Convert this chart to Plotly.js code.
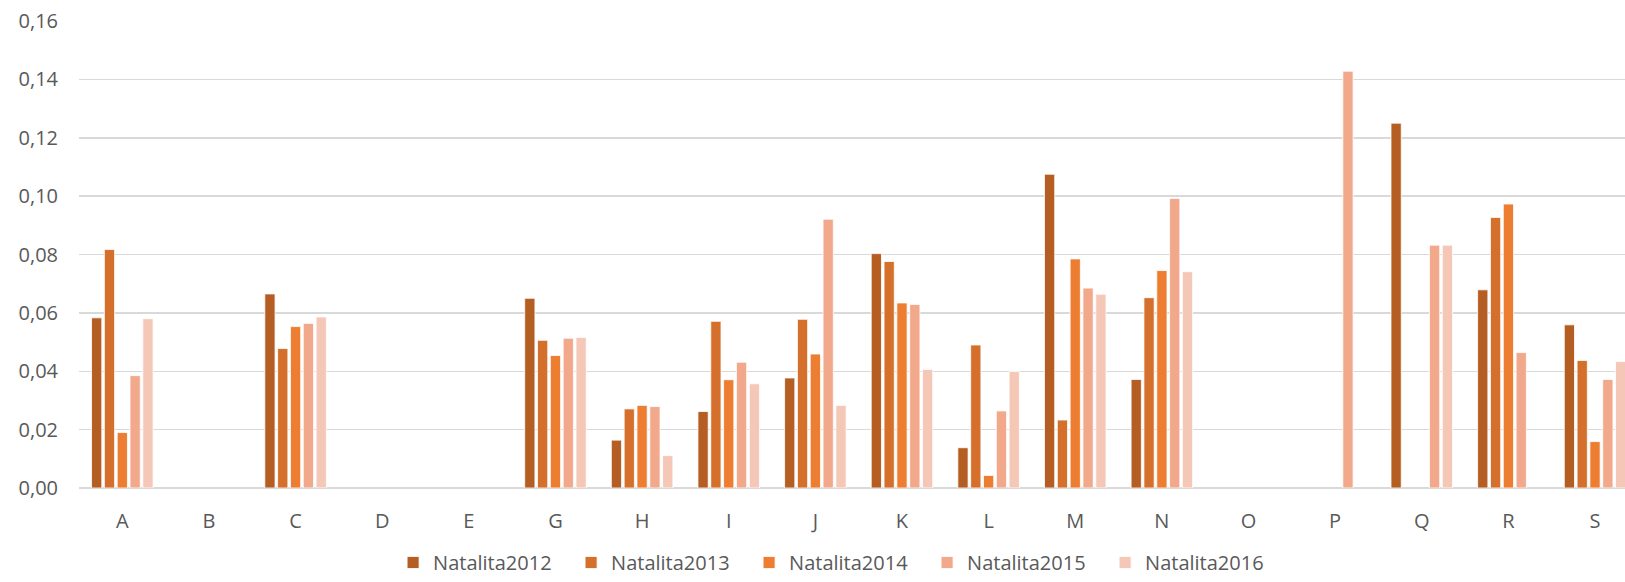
<!DOCTYPE html>
<html>
<head>
<meta charset="utf-8">
<script src="https://cdn.plot.ly/plotly-3.0.1.min.js"></script>
<style>html,body{margin:0;padding:0;background:#fff;}#chart{width:1625px;height:582px;}</style>
</head>
<body>
<div id="chart"></div>
<script>
const categories = ["A","B","C","D","E","G","H","I","J","K","L","M","N","O","P","Q","R","S"];
const natalita2012 = [0.0583, null, 0.0665, null, null, 0.0650, 0.0164, 0.0262, 0.0377, 0.0803, 0.0138, 0.1075, 0.0372, null, null, 0.1250, 0.0679, 0.0559];
const natalita2013 = [0.0817, null, 0.0478, null, null, 0.0506, 0.0271, 0.0571, 0.0578, 0.0776, 0.0490, 0.0233, 0.0652, null, null, null, 0.0927, 0.0437];
const natalita2014 = [0.0190, null, 0.0553, null, null, 0.0454, 0.0283, 0.0371, 0.0459, 0.0634, 0.0043, 0.0785, 0.0745, null, null, null, 0.0973, 0.0159];
const natalita2015 = [0.0385, null, 0.0564, null, null, 0.0513, 0.0279, 0.0431, 0.0921, 0.0629, 0.0264, 0.0685, 0.0992, null, 0.1428, 0.0832, 0.0464, 0.0372];
const natalita2016 = [0.0580, null, 0.0586, null, null, 0.0516, 0.0111, 0.0357, 0.0283, 0.0406, 0.0399, 0.0664, 0.0741, null, null, 0.0832, null, 0.0433];
const seriesNames = ["Natalita2012","Natalita2013","Natalita2014","Natalita2015","Natalita2016"];
const seriesColors = ["#B45E24","#D46F2C","#ED7D31","#F1A88B","#F5C7B7"];
const seriesValues = [natalita2012, natalita2013, natalita2014, natalita2015, natalita2016];

const font = "'Open Sans', 'Liberation Sans', sans-serif";
const traces = seriesValues.map((vals, i) => ({
  type: 'bar',
  name: seriesNames[i],
  x: categories,
  y: vals,
  marker: {color: seriesColors[i], line: {color: '#ffffff', width: 0.8}},
  hoverinfo: 'x+y+name'
}));

const layout = {
  width: 1625,
  height: 582,
  margin: {l: 79, r: 0, t: 21, b: 94, autoexpand: false},
  paper_bgcolor: '#ffffff',
  plot_bgcolor: '#ffffff',
  separators: ', ',
  barmode: 'group',
  bargap: 0.26,
  bargroupgap: 0.2,
  font: {family: font, size: 20, color: '#595959'},
  xaxis: {
    type: 'category',
    range: [-0.5, 17.346],
    showgrid: false,
    showline: false,
    zeroline: false,
    ticks: '',
    ticklabelstandoff: 19,
    automargin: false,
    tickfont: {family: font, size: 20, color: '#595959'}
  },
  yaxis: {
    range: [0, 0.16],
    dtick: 0.02,
    tick0: 0,
    tickformat: '.2f',
    showgrid: true,
    gridcolor: '#d9d9d9',
    gridwidth: 1.5,
    zeroline: true,
    zerolinecolor: '#d9d9d9',
    zerolinewidth: 1.5,
    showline: false,
    ticks: '',
    ticklabelstandoff: 20,
    automargin: false,
    tickfont: {family: font, size: 20, color: '#595959'}
  },
  showlegend: true,
  legend: {
    orientation: 'h',
    x: 0.491,
    xanchor: 'center',
    yref: 'container',
    y: 0,
    yanchor: 'bottom',
    borderwidth: 0,
    entrywidth: 133,
    entrywidthmode: 'pixels',
    font: {family: font, size: 20, color: '#595959'},
    bgcolor: 'rgba(0,0,0,0)'
  }
};

Plotly.newPlot('chart', traces, layout, {displayModeBar: false, staticPlot: true});
</script>
</body>
</html>
